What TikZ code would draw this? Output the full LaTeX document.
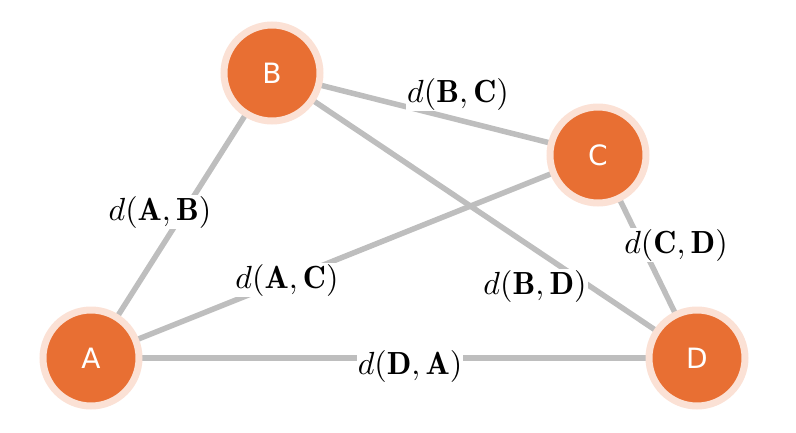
\documentclass[tikz,border=0pt]{standalone}
\usepackage{fontspec}
\usepackage{graphicx}
\newfontfamily\nodefont{DejaVu Sans}
\newcommand{\mylab}[2]{\resizebox{!}{24pt}{$d(\mathbf{#1},\mathbf{#2})$}}
\begin{document}
\begin{tikzpicture}[x=1pt,y=-1pt,
  vert/.style={circle,fill=nodeor,draw=ringc,line width=7pt,minimum size=96pt,inner sep=0pt,text=white,font=\nodefont\fontsize{28}{28}\selectfont},
  edge/.style={draw=edgec,line width=5.5pt},
  lab/.style={fill=white,inner sep=1pt}]
\definecolor{nodeor}{HTML}{E86F33}
\definecolor{ringc}{HTML}{FBE1D5}
\definecolor{edgec}{HTML}{BEBEBE}
\useasboundingbox (0,0) rectangle (796,432);
\coordinate (pA) at (91,358);
\coordinate (pB) at (272,73);
\coordinate (pC) at (598,155);
\coordinate (pD) at (697,358);
\draw[edge] (pA) -- (pB);
\draw[edge] (pB) -- (pC);
\draw[edge] (pA) -- (pC);
\draw[edge] (pB) -- (pD);
\draw[edge] (pC) -- (pD);
\draw[edge] (pD) -- (pA);
\node[lab] (lab1) at (160,212) {\mylab{A}{B}};
\node[lab] (lab2) at (458,94) {\mylab{B}{C}};
\node[lab] (lab3) at (287,280) {\mylab{A}{C}};
\node[lab] (lab4) at (535,286) {\mylab{B}{D}};
\node[lab] (lab5) at (676,245) {\mylab{C}{D}};
\node[lab] (lab6) at (410,366) {\mylab{D}{A}};
\node[vert] (A) at (pA) {A};
\node[vert] (B) at (pB) {B};
\node[vert] (C) at (pC) {C};
\node[vert] (D) at (pD) {D};
\end{tikzpicture}
\end{document}
